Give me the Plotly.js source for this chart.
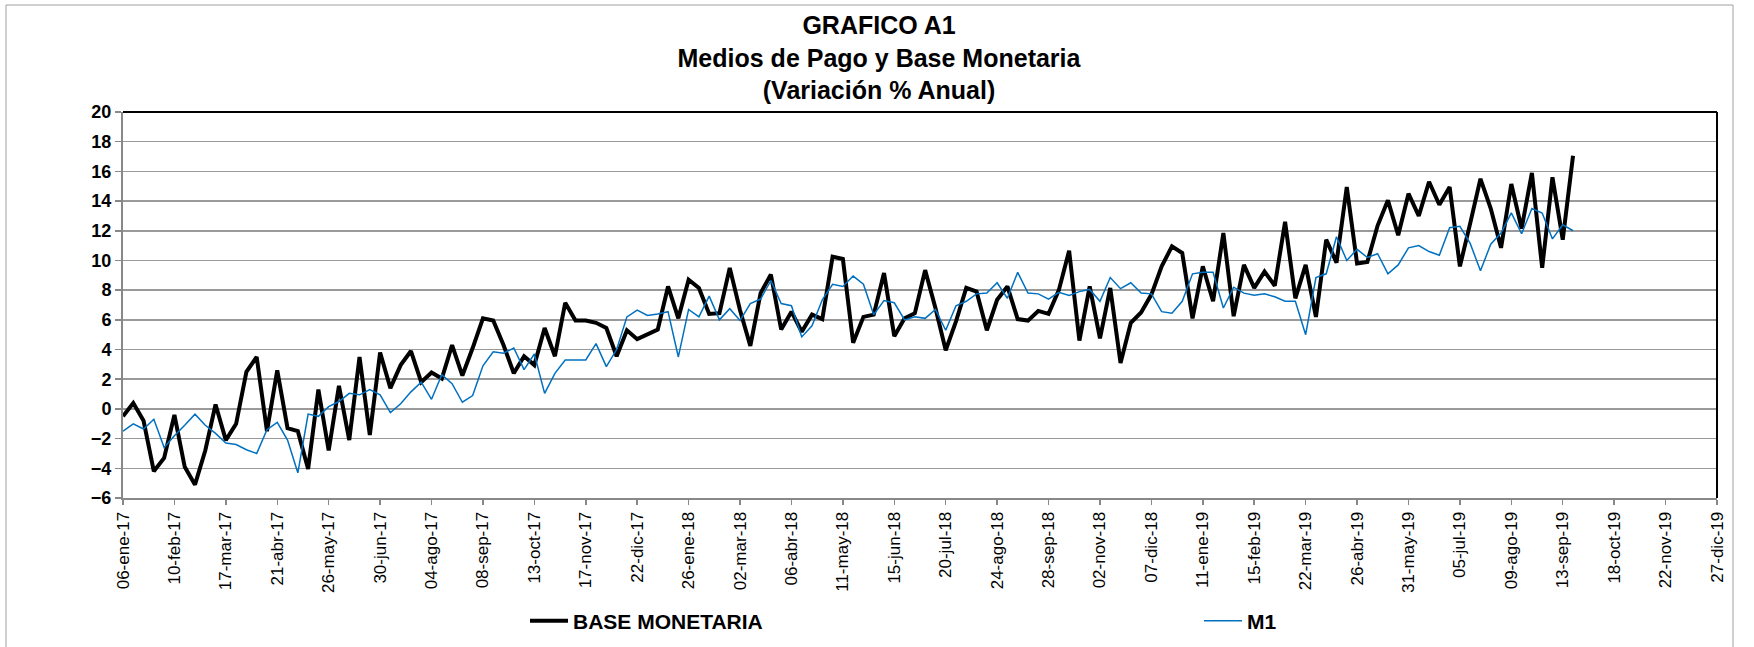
<!DOCTYPE html>
<html>
<head>
<meta charset="utf-8">
<script src="https://cdn.plot.ly/plotly-3.0.1.min.js"></script>
<style>
  html, body { margin: 0; padding: 0; background: #ffffff; }
  #chart { width: 1754px; height: 647px; }
</style>
</head>
<body>
<div id="chart"></div>
<script>
// ---- Data (weekly, Friday dates starting 06-ene-17) ----
const firstWeek = '2017-01-06';

const baseMonetaria = [
  -0.5, 0.4, -0.8, -4.2, -3.3, -0.4, -3.9, -5.1, -2.8, 0.3,
  -2.1, -1.0, 2.5, 3.5, -1.5, 2.6, -1.3, -1.5, -4.05, 1.3,
  -2.8, 1.55, -2.1, 3.5, -1.75, 3.8, 1.4, 2.95, 3.9, 1.8,
  2.45, 2.05, 4.3, 2.25, 4.1, 6.1, 5.95, 4.3, 2.4, 3.55,
  2.95, 5.45, 3.55, 7.15, 5.95, 5.95, 5.8, 5.45, 3.55, 5.3,
  4.7, 5.0, 5.35, 8.25, 6.1, 8.7, 8.15, 6.4, 6.45, 9.5,
  6.65, 4.25, 7.8, 9.05, 5.35, 6.55, 5.2, 6.35, 6.05, 10.25,
  10.1, 4.45, 6.2, 6.35, 9.15, 4.9, 6.1, 6.45, 9.35, 6.8,
  3.95, 5.9, 8.15, 7.9, 5.3, 7.35, 8.25, 6.05, 5.95, 6.6,
  6.4, 8.0, 10.65, 4.6, 8.25, 4.75, 8.15, 3.1, 5.8, 6.5,
  7.7, 9.6, 10.95, 10.5, 6.1, 9.6, 7.25, 11.85, 6.25, 9.7,
  8.15, 9.25, 8.3, 12.6, 7.45, 9.7, 6.2, 11.4, 9.85, 14.95,
  9.8, 9.9, 12.35, 14.05, 11.7, 14.5, 13.0, 15.3, 13.75, 14.95,
  9.6, 12.5, 15.5, 13.5, 10.85, 15.15, 12.15, 15.9, 9.5, 15.6,
  11.4, 17.05
];

const m1 = [
  -1.5, -1.0, -1.35, -0.7, -2.6, -1.8, -1.1, -0.35, -1.1, -1.65,
  -2.3, -2.4, -2.75, -3.0, -1.4, -0.9, -2.1, -4.3, -0.35, -0.5,
  0.15, 0.5, 1.05, 0.95, 1.3, 0.95, -0.25, 0.35, 1.15, 1.8,
  0.65, 2.3, 1.7, 0.45, 0.9, 2.9, 3.85, 3.75, 4.1, 2.65,
  3.7, 1.05, 2.4, 3.3, 3.3, 3.3, 4.4, 2.85, 4.0, 6.2,
  6.65, 6.3, 6.4, 6.55, 3.5, 6.7, 6.2, 7.6, 6.0, 6.75,
  5.95, 7.1, 7.4, 8.65, 7.1, 6.95, 4.85, 5.6, 7.35, 8.4,
  8.25, 8.95, 8.4, 6.35, 7.3, 7.15, 6.0, 6.2, 6.1, 6.7,
  5.3, 6.95, 7.25, 7.75, 7.8, 8.5, 7.45, 9.2, 7.8, 7.75,
  7.4, 7.85, 7.65, 7.9, 8.05, 7.25, 8.85, 8.1, 8.5, 7.8,
  7.75, 6.55, 6.45, 7.25, 9.1, 9.2, 9.2, 6.8, 8.2, 7.8,
  7.65, 7.75, 7.55, 7.25, 7.25, 5.0, 8.85, 9.1, 11.6, 10.0,
  10.75, 10.2, 10.45, 9.1, 9.7, 10.85, 11.0, 10.6, 10.35, 12.2,
  12.3, 11.15, 9.3, 11.1, 11.85, 13.2, 11.8, 13.5, 13.2, 11.45,
  12.4, 12.0
];

const tickLabels = [
  '06-ene-17', '10-feb-17', '17-mar-17', '21-abr-17', '26-may-17', '30-jun-17',
  '04-ago-17', '08-sep-17', '13-oct-17', '17-nov-17', '22-dic-17', '26-ene-18',
  '02-mar-18', '06-abr-18', '11-may-18', '15-jun-18', '20-jul-18', '24-ago-18',
  '28-sep-18', '02-nov-18', '07-dic-18', '11-ene-19', '15-feb-19', '22-mar-19',
  '26-abr-19', '31-may-19', '05-jul-19', '09-ago-19', '13-sep-19', '18-oct-19',
  '22-nov-19', '27-dic-19'
];

const titleText = 'GRAFICO A1<br>Medios de Pago y Base Monetaria<br>(Variación % Anual)';
const seriesNames = ['BASE MONETARIA', 'M1'];

// ---- weekly date helper (category positions) ----
function weeklyDates(start, n) {
  const out = [];
  const d0 = new Date(start + 'T00:00:00Z');
  for (let i = 0; i < n; i++) {
    const d = new Date(d0.getTime() + i * 7 * 86400000);
    out.push(d.toISOString().slice(0, 10));
  }
  return out;
}

const dates = weeklyDates(firstWeek, baseMonetaria.length);
const tickVals = weeklyDates(firstWeek, (tickLabels.length - 1) * 5 + 1).filter((d, i) => i % 5 === 0);

const FONT = 'Liberation Sans, Arial, Helvetica, sans-serif';

const traces = [
  {
    x: dates, y: baseMonetaria, name: seriesNames[0], type: 'scatter', mode: 'lines',
    line: { color: '#000000', width: 4 }, legend: 'legend'
  },
  {
    x: weeklyDates(firstWeek, m1.length), y: m1, name: seriesNames[1], type: 'scatter', mode: 'lines',
    line: { color: '#0070C0', width: 1.5 }, legend: 'legend2'
  }
];

const L = 123, R = 37, T = 112, B = 149, W = 1754, H = 647;
const pw = W - L - R, ph = H - T - B;
const px = v => (v - L) / pw;
const py = v => (H - B - v) / ph;

const legendFont = { family: FONT, size: 21, weight: 700, color: '#000000' };

const layout = {
  width: W, height: H,
  margin: { l: L, r: R, t: T, b: B, pad: 0, autoexpand: false },
  paper_bgcolor: '#ffffff', plot_bgcolor: '#ffffff',
  font: { family: FONT, color: '#000000' },
  title: {
    text: titleText,
    font: { family: FONT, size: 25, weight: 700, color: '#000000' },
    xref: 'paper', x: px(879), xanchor: 'center',
    yref: 'container', y: 1 - 34 / H, yanchor: 'top',
    automargin: false
  },
  showlegend: true,
  legend: {
    orientation: 'h',
    x: px(525), xanchor: 'left',
    y: py(621), yanchor: 'middle',
    itemwidth: 38,
    font: legendFont,
    bgcolor: 'rgba(0,0,0,0)'
  },
  legend2: {
    orientation: 'h',
    x: px(1199), xanchor: 'left',
    y: py(621), yanchor: 'middle',
    itemwidth: 38,
    font: legendFont,
    bgcolor: 'rgba(0,0,0,0)'
  },
  xaxis: {
    type: 'date',
    range: [tickVals[0], tickVals[tickVals.length - 1]],
    tickmode: 'array', tickvals: tickVals, ticktext: tickLabels,
    tickangle: -90,
    tickfont: { family: FONT, size: 17, color: '#000000' },
    ticks: 'outside', ticklen: 5, tickcolor: '#888888', tickwidth: 1.5,
    showline: true, linecolor: '#888888', linewidth: 2,
    showgrid: false, zeroline: false, fixedrange: true, automargin: false
  },
  yaxis: {
    range: [-6, 20], dtick: 2, tick0: 0,
    tickfont: { family: FONT, size: 18, weight: 700, color: '#000000' },
    ticks: 'outside', ticklen: 6, tickcolor: '#888888', tickwidth: 1.5,
    showline: true, linecolor: '#888888', linewidth: 2,
    showgrid: true, gridcolor: '#9a9a9a', gridwidth: 1.5,
    zeroline: false, fixedrange: true, automargin: false
  },
  shapes: [
    { type: 'line', xref: 'paper', yref: 'paper', x0: 0, x1: 1, y0: 1, y1: 1,
      line: { color: '#000000', width: 2 } },
    { type: 'line', xref: 'paper', yref: 'paper', x0: 1, x1: 1, y0: 0, y1: 1,
      line: { color: '#000000', width: 2 } },
    { type: 'rect', xref: 'paper', yref: 'paper', layer: 'below',
      x0: px(6), x1: px(1733), y0: py(700), y1: py(5),
      line: { color: '#a0a0a0', width: 1 }, fillcolor: 'rgba(0,0,0,0)' }
  ]
};

Plotly.newPlot('chart', traces, layout, { displayModeBar: false, staticPlot: true });
</script>
</body>
</html>
